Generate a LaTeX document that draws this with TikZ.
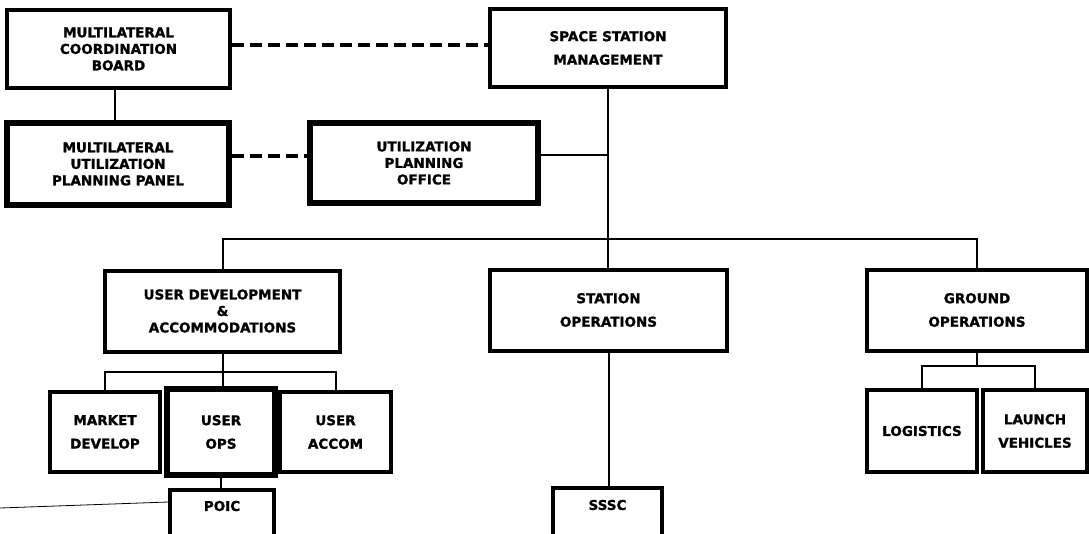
\documentclass[tikz,border=0pt]{standalone}
\usepackage{fontspec}
\setmainfont{DejaVu Sans}[BoldFeatures={FakeBold=1.2}]
\newcommand\fntA{\fontsize{13.5}{16.5}\selectfont\bfseries}
\newcommand\fntB{\fontsize{13.5}{23.5}\selectfont\bfseries}
\begin{document}
\begin{tikzpicture}[x=1pt,y=-1pt,
  box/.style={draw=black, line width=4pt, fill=white, inner sep=0pt, align=center, font=\fntB},
  box3/.style={box, font=\fntA},
  heavy/.style={line width=6pt},
  lbl/.style={inner sep=0pt, font=\fntB},
  link/.style={line width=2pt},
  dlink/.style={line width=3.2pt, dash pattern=on 12pt off 6pt},
  stray/.style={line width=0.8pt}]
\useasboundingbox (0,0) rectangle (1089,533);
\clip (0,0) rectangle (1089,533);
% boxes
\node[box3, minimum width=223, minimum height=78] (mcb) at (118.5,49) {MULTILATERAL\\COORDINATION\\BOARD};
\node[box, minimum width=236, minimum height=78] (ssm) at (608,48) {SPACE STATION\\MANAGEMENT};
\node[box3, heavy, minimum width=222, minimum height=82] (mupp) at (118,164) {MULTILATERAL\\UTILIZATION\\PLANNING PANEL};
\node[box3, heavy, minimum width=228, minimum height=80] (upo) at (424,163) {UTILIZATION\\PLANNING\\OFFICE};
\node[box3, minimum width=235, minimum height=81] (uda) at (222.5,311) {USER DEVELOPMENT\\\&\\ACCOMMODATIONS};
\node[box, minimum width=237, minimum height=81] (so) at (608.5,310) {STATION\\OPERATIONS};
\node[box, minimum width=220, minimum height=81] (go) at (977,310) {GROUND\\OPERATIONS};
\node[box, minimum width=110, minimum height=80] (mkt) at (105,432) {MARKET\\DEVELOP};
\node[box, heavy, minimum width=108, minimum height=86] (uops) at (221,432) {USER\\OPS};
\node[box, minimum width=111, minimum height=80] (uacc) at (335.5,432) {USER\\ACCOM};
\node[box, minimum width=104, minimum height=80] (poic) at (222,530) {};
\node[lbl] (poict) at ([yshift=-18pt]poic.north) {POIC};
\node[box, minimum width=109, minimum height=80] (sssc) at (607.5,528) {};
\node[lbl] (sssct) at ([yshift=-19pt]sssc.north) {SSSC};
\node[box, minimum width=110, minimum height=82] (log) at (922,431) {LOGISTICS};
\node[box, minimum width=104, minimum height=82] (lv) at (1035,431) {LAUNCH\\VEHICLES};
% connectors
\coordinate (d1) at ([yshift=4pt]mcb.east);
\draw[dlink] (d1) -- (d1 -| ssm.west);
\coordinate (d2) at ([yshift=8pt]mupp.east);
\draw[dlink] (d2) -- (d2 -| upo.west);
\draw[link] (mcb.south -| 115,0) -- (mupp.north -| 115,0);
\draw[link] (ssm.south) -- (ssm.south |- so.north);
\coordinate (u1) at ([yshift=8pt]upo.east);
\draw[link] (u1) -- (u1 -| ssm.south);
\coordinate (bus) at (608,239);
\draw[link] (uda.north) |- (bus) -| (go.north);
\coordinate (ub) at (222,372);
\draw[link] (uda.south) -- (uda.south |- uops.north);
\draw[link] (mkt.north) |- (ub) -| (uacc.north);
\draw[link] (uops.south) -- (uops.south |- poic.north);
\draw[link] (so.south) -- (so.south |- sssc.north);
\coordinate (gb) at (977,366);
\draw[link] (go.south) -- (gb);
\draw[link] (log.north) |- (gb) -| (lv.north);
\coordinate (s0) at (0,508);
\draw[stray] (s0) -- ([yshift=-14pt]poic.north west);
\end{tikzpicture}
\end{document}
